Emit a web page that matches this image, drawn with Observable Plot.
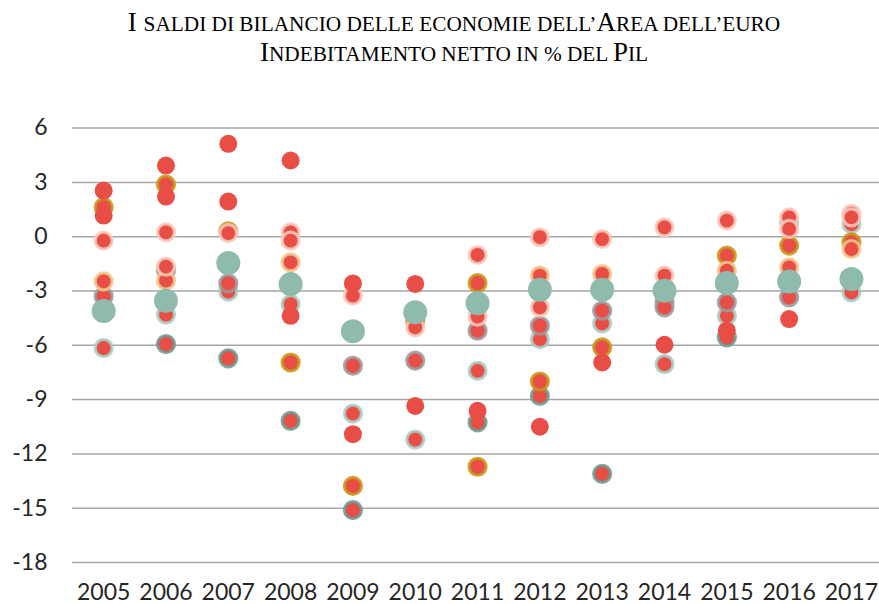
<!DOCTYPE html>
<html><head><meta charset="utf-8">
<script src="https://cdn.jsdelivr.net/npm/d3@7"></script>
<script src="https://cdn.jsdelivr.net/npm/@observablehq/plot@0.6"></script>
<style>
body{margin:0;background:#fff;width:879px;height:604px;overflow:hidden}
#title{height:90px;box-sizing:border-box;padding-top:8px;padding-left:29px;text-align:center;font-family:"Liberation Serif","Times New Roman",serif;font-size:27px;line-height:28px;color:#000}
#title .sc{font-size:21.3px;text-transform:uppercase}
#title div{white-space:nowrap}
</style></head>
<body>
<div id="title"><div>I <span class="sc">saldi di bilancio delle economie dell’</span>A<span class="sc">rea dell’euro</span></div><div>I<span class="sc">ndebitamento netto in % del </span>P<span class="sc">il</span></div></div>
<div id="chart"></div>
<script>
const years = [2005,2006,2007,2008,2009,2010,2011,2012,2013,2014,2015,2016,2017];
const yTicks = [6,3,0,-3,-6,-9,-12,-15,-18];
// Large teal dots
const euroArea = [-4.1,-3.54,-1.45,-2.62,-5.22,-4.18,-3.68,-2.93,-2.93,-2.98,-2.56,-2.47,-2.34];
// Red dots by outline (glow) colour, as [year, value]
const plain = [[2005,2.55],[2005,1.17],[2006,3.93],[2006,2.22],[2007,5.13],[2007,1.94],[2008,4.21],[2008,-4.37],
  [2009,-2.58],[2009,-10.91],[2010,-2.61],[2010,-9.35],[2011,-9.62],[2012,-10.5],[2013,-6.95],[2014,-5.97],
  [2015,-5.19],[2016,-4.55]];
const pink = [[2005,-0.22],[2006,0.24],[2006,-1.65],[2007,0.2],[2008,0.24],[2008,-0.22],[2009,-3.26],[2010,-5.01],
  [2011,-1.01],[2011,-4.42],[2012,-0.03],[2012,-3.9],[2013,-0.13],[2014,0.52],[2014,-2.15],[2015,0.89],
  [2016,1.07],[2016,0.43],[2017,1.26],[2017,1.07]];
const gold = [[2005,1.63],[2006,2.88],[2007,0.3],[2008,-6.95],[2009,-13.77],[2010,-4.64],[2011,-2.56],[2011,-12.71],
  [2012,-8.0],[2013,-6.12],[2015,-1.05],[2016,-0.49],[2017,-0.31]];
const paleGold = [[2005,-2.47],[2006,-2.43],[2008,-1.42],[2012,-2.15],[2013,-2.06],[2015,-1.88],[2016,-1.69],[2017,-0.68]];
const gray = [[2005,-3.3],[2006,-1.85],[2007,-2.58],[2009,-7.13],[2010,-6.85],[2011,-5.19],[2012,-4.92],[2013,-4.09],
  [2014,-3.6],[2014,-3.9],[2015,-3.63],[2016,-3.35]];
const teal = [[2005,-6.15],[2006,-4.3],[2007,-3.04],[2008,-3.72],[2009,-9.77],[2010,-11.21],[2011,-7.41],[2012,-5.66],
  [2013,-4.79],[2014,-7.04],[2015,-4.37],[2016,0.8],[2017,0.7],[2017,-3.08]];
const darkTeal = [[2006,-5.93],[2007,-6.72],[2008,-10.17],[2009,-15.11],[2011,-10.26],[2012,-8.79],[2013,-13.1],[2015,-5.56]];

const toRows = arr => arr.map(([year, value]) => ({year, value}));
const RED = "#e84e46";
const ring = (arr, color) => Plot.dot(toRows(arr), {x:"year", y:"value", r:8.5, fill:RED, stroke:color, strokeWidth:3.2, strokeOpacity:0.85});

const chart = Plot.plot({
  width: 879, height: 514,
  marginLeft: 72, marginRight: 0, marginTop: 37.6, marginBottom: 42,
  x: {domain:[2004.5, 2017.45], ticks: years, tickFormat: d => String(d), tickSize: 0, tickPadding: 21, label: null},
  y: {domain:[-18, 6], ticks: yTicks, tickFormat: d => String(d), tickSize: 0, tickPadding: 25, label: null},
  style: {fontFamily: "Lato, 'Open Sans', sans-serif", fontSize: "23px", color: "#262626", background: "#fff"},
  marks: [
    Plot.ruleY(yTicks, {stroke: "#a6a6a6", strokeWidth: 1.5}),
    ring(darkTeal, "#6f9a8e"),
    ring(teal, "#a9cfc5"),
    ring(gray, "#9b9b9b"),
    ring(gold, "#c9961a"),
    ring(paleGold, "#f0c98e"),
    ring(pink, "#f6cdbd"),
    Plot.dot(toRows(plain), {x:"year", y:"value", r:9, fill:RED}),
    Plot.dot(years.map((year, i) => ({year, value: euroArea[i]})), {x:"year", y:"value", r:12, fill:"#8fbbaf"})
  ]
});
document.getElementById("chart").append(chart);
</script>
</body></html>
